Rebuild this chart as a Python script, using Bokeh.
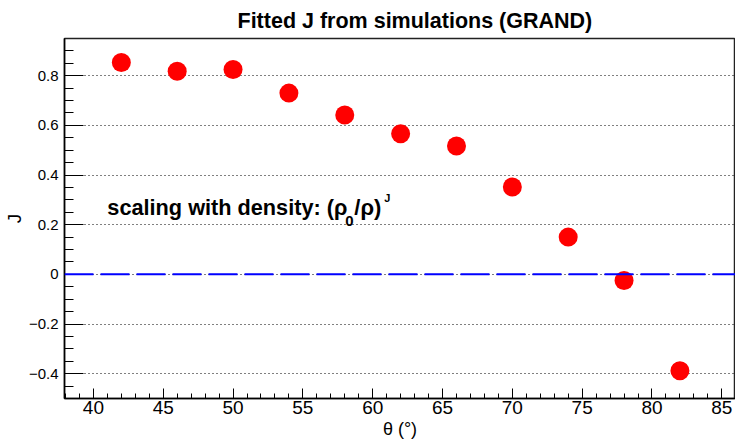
from bokeh.plotting import figure
from bokeh.models import Range1d, SingleIntervalTicker, Label, Span
from bokeh.embed import file_html
from bokeh.resources import INLINE

# ---- data ----
theta = [42, 46, 50, 54, 58, 62, 66, 70, 74, 78, 82]
J_fit = [0.853, 0.818, 0.825, 0.73, 0.642, 0.566, 0.517, 0.352, 0.15, -0.025, -0.388]
x_tick_interval = 5
y_tick_interval = 0.2
title_text = "Fitted J from simulations (GRAND)"
x_label = "θ (°)"
y_label = "J"
note_main = "scaling with density: (ρ"
note_sub = "0"
note_mid = "/ρ)"
note_sup = "J"

FONT = "Liberation Sans"

p = figure(width=735, height=441, output_backend="svg", toolbar_location=None,
           x_range=Range1d(37.93, 85.98), y_range=Range1d(-0.5, 0.95),
           min_border_left=64, min_border_right=0, min_border_top=38,
           min_border_bottom=43, background_fill_color="white",
           border_fill_color="white")

p.title.text = title_text
p.title.text_font = FONT
p.title.text_font_size = "21.5px"
p.title.text_font_style = "bold"
p.title.text_color = "black"
p.title.align = "left"
p.title.offset = 173
p.title.standoff = 12

p.outline_line_color = "#222222"
p.outline_line_width = 1.5

for ax in (p.xaxis, p.yaxis):
    ax.major_tick_out = 0
    ax.minor_tick_out = 0
    ax.axis_line_color = "black"
    ax.axis_line_width = 1.5
    ax.major_tick_line_color = "black"
    ax.minor_tick_line_color = "black"
    ax.major_label_text_font = FONT
    ax.axis_label_text_font = FONT
    ax.axis_label_text_font_style = "normal"
    ax.major_label_text_color = "black"
    ax.axis_label_text_color = "black"

# x axis
p.xaxis.ticker = SingleIntervalTicker(interval=x_tick_interval, num_minor_ticks=5)
p.xaxis.axis_label = x_label
p.xaxis.major_tick_in = 10
p.xaxis.minor_tick_in = 5
p.xaxis.major_label_text_font_size = "19px"
p.xaxis.axis_label_text_font_size = "18px"
p.xaxis.major_label_standoff = 2
p.xaxis.axis_label_standoff = 2

# y axis
p.yaxis.ticker = SingleIntervalTicker(interval=y_tick_interval, num_minor_ticks=4)
p.yaxis.axis_label = y_label
p.yaxis.major_tick_in = 19
p.yaxis.minor_tick_in = 9
p.yaxis.major_label_text_font_size = "15px"
p.yaxis.axis_label_text_font_size = "19px"
p.yaxis.major_label_standoff = 6
p.yaxis.axis_label_standoff = 1

p.xgrid.visible = False
p.ygrid.grid_line_color = "black"
p.ygrid.grid_line_dash = "1 3"
p.ygrid.grid_line_width = 1

zero = Span(location=0, dimension="width", line_color="#0000ff",
            line_width=2, line_dash="29 7")
p.add_layout(zero)

p.scatter(theta, J_fit, size=19, fill_color="#ff0000", line_color=None)

nx, ny = 41.0, 0.271
common = dict(x=nx, y=ny, text_font=FONT, text_font_style="bold",
              text_baseline="alphabetic", text_color="black")
p.add_layout(Label(text=note_main, text_font_size="21.7px", **common))
p.add_layout(Label(text=note_sub, x_offset=238, y_offset=-14,
                   text_font_size="15px", **common))
p.add_layout(Label(text=note_mid, x_offset=247, text_font_size="22px", **common))
p.add_layout(Label(text=note_sup, x_offset=277, y_offset=9,
                   text_font_size="11px", **common))

open("out.html", "w").write(file_html(p, INLINE))
